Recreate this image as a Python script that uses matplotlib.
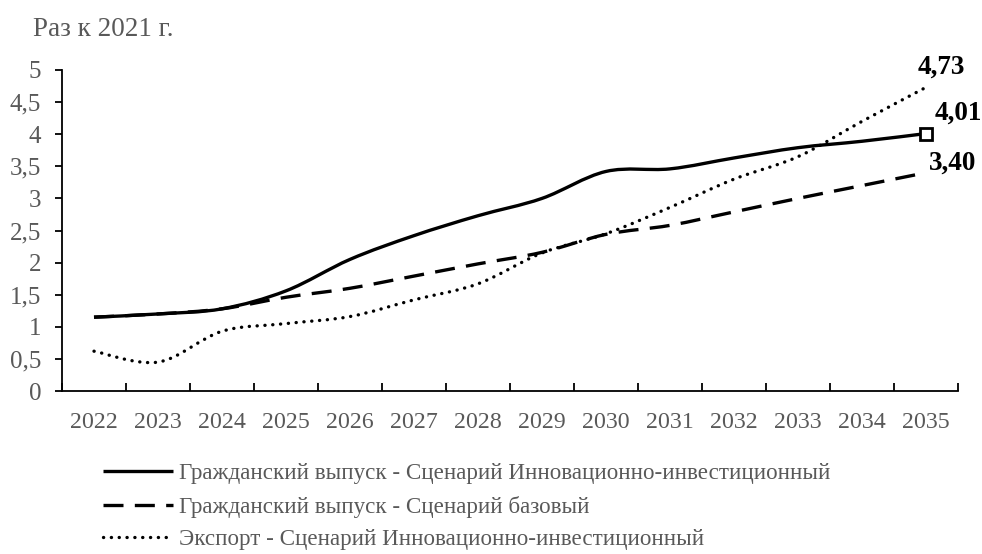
import matplotlib.pyplot as plt
import numpy as np
from matplotlib.path import Path
from matplotlib.patches import PathPatch
from matplotlib.lines import Line2D

plt.rcParams['font.family'] = ['Liberation Serif', 'DejaVu Serif']

years = ['2022', '2023', '2024', '2025', '2026', '2027', '2028',
         '2029', '2030', '2031', '2032', '2033', '2034', '2035']
civil_innov = [1.15, 1.20, 1.28, 1.56, 2.05, 2.42, 2.73, 3.00, 3.42, 3.46, 3.63, 3.79, 3.89, 4.01]
civil_base = [1.15, 1.20, 1.28, 1.46, 1.60, 1.79, 1.98, 2.16, 2.44, 2.58, 2.79, 3.00, 3.20, 3.40]
export_innov = [0.62, 0.45, 0.93, 1.05, 1.16, 1.42, 1.67, 2.15, 2.45, 2.86, 3.30, 3.65, 4.20, 4.73]
labels = ['Гражданский выпуск - Сценарий Инновационно-инвестиционный',
          'Гражданский выпуск - Сценарий базовый',
          'Экспорт - Сценарий Инновационно-инвестиционный']

grey = '#595959'


def smooth_path(vals):
    # Excel-style smoothed line: cubic Bezier through the points
    x = np.arange(len(vals), dtype=float)
    p = np.column_stack([x, vals])
    pts = [p[0]]
    codes = [Path.MOVETO]
    n = len(p)
    for i in range(n - 1):
        p0 = p[max(i - 1, 0)]
        p3 = p[min(i + 2, n - 1)]
        c1 = p[i] + (p[i + 1] - p0) / 6
        c2 = p[i + 1] - (p3 - p[i]) / 6
        pts += [c1, c2, p[i + 1]]
        codes += [Path.CURVE4] * 3
    return Path(np.array(pts), codes)


fig = plt.figure(figsize=(9.82, 5.54), dpi=100)
ax = fig.add_axes([62/982, 1 - 391/554, 896/982, 321/554])

series = [civil_innov, civil_base, export_innov]
linestyles = ['-', (0, (6, 3.4)), (0, (0.05, 2.3))]
caps = ['butt', 'butt', 'round']
handles = []
for vals, ls, cap, lab in zip(series, linestyles, caps, labels):
    patch = PathPatch(smooth_path(vals), fill=False, edgecolor='black',
                      linestyle=ls, lw=2.4)
    patch.set_capstyle(cap)
    ax.add_patch(patch)
    handles.append(Line2D([], [], color='black', linestyle=ls, lw=2.4,
                          solid_capstyle='butt', dash_capstyle=cap))

n = len(years)
ax.plot([n - 1], [civil_innov[-1]], marker='s', ms=9, mfc='white', mec='black', mew=2)

def fmt(v):
    return f'{v:.2f}'.replace('.', ',')

ax.annotate(fmt(export_innov[-1]), (n - 1, export_innov[-1]),
            xytext=(15, 20), textcoords='offset pixels', ha='center', va='center',
            fontsize=19.5, fontweight='bold')
ax.annotate(fmt(civil_innov[-1]), (n - 1, civil_innov[-1]),
            xytext=(32, 20), textcoords='offset pixels', ha='center', va='center',
            fontsize=19.5, fontweight='bold')
ax.annotate(fmt(civil_base[-1]), (n - 1, civil_base[-1]),
            xytext=(27, 10), textcoords='offset pixels', ha='center', va='center',
            fontsize=19.5, fontweight='bold')

ax.set_xlim(-0.5, n - 0.5)
ax.set_ylim(0, 5)
yt = np.arange(0, 5.01, 0.5)
ax.set_yticks(yt)
ax.set_yticklabels([f'{v:g}'.replace('.', ',') for v in yt])
ax.set_xticks(np.arange(-0.5, n, 1.0))
ax.set_xticklabels([])
ax.set_xticks(np.arange(n), minor=True)
ax.set_xticklabels(years, minor=True)
ax.tick_params(axis='x', which='major', direction='in', length=6, width=1.3)
ax.tick_params(axis='x', which='minor', length=0, pad=15, labelsize=17.2, labelcolor=grey)
ax.tick_params(axis='y', direction='out', length=5, width=1.3, labelsize=18,
               labelcolor=grey, pad=10)
for s in ['top', 'right']:
    ax.spines[s].set_visible(False)
for s in ['left', 'bottom']:
    ax.spines[s].set_linewidth(1.3)

fig.text(33/982, 1 - 30/554, 'Раз к 2021 г.', fontsize=19.5, color=grey, va='center')

fig.legend(handles, labels, loc='upper left', bbox_to_anchor=(103/982, 1 - 463/554),
           frameon=False, fontsize=16.6, labelcolor=grey, handlelength=3.05,
           handletextpad=0.25, labelspacing=0.5, borderaxespad=0, borderpad=0)

fig.savefig('out.png', dpi=100)
